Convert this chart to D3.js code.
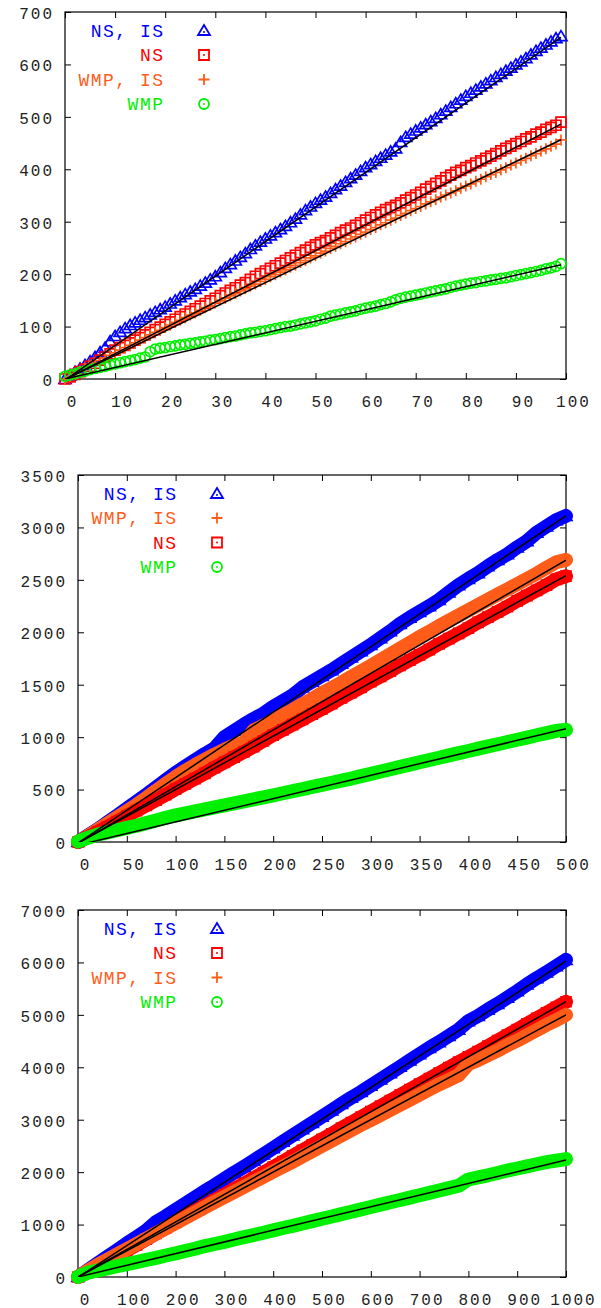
<!DOCTYPE html>
<html>
<head>
<meta charset="utf-8">
<script src="https://cdn.jsdelivr.net/npm/d3@7"></script>
<style>
  body { margin: 0; background: #fff; }
  .panel svg { display: block; overflow: visible; }
  .axis text { font: 16px "Liberation Mono", monospace; letter-spacing: 2px; fill: #222; }
  .legend text { font: 18px "Liberation Mono", monospace; letter-spacing: 1.5px; }
</style>
</head>
<body>
<div id="chart"></div>
<script>
// Series names and colours (legend text).
var names = ['NS, IS', 'NS', 'WMP, IS', 'WMP'];
var colors = {'NS, IS': '#0000ff', 'NS': '#ff0000', 'WMP, IS': '#ff5c1a', 'WMP': '#00f000'};
var shapesOf = {'NS, IS': 'triangle', 'NS': 'square', 'WMP, IS': 'plus', 'WMP': 'circle'};

// Panel 1: x = 0..99
var x1 = d3.range(0, 100);
var nsIs1 = [0,7,14,20,27,34,42,51,60,72, 82,90,97,103,108,113,118,123,128,133,
  138,144,150,156,162,167,172,178,184,190, 196,204,212,219,226,233,240,248,255,262,
  268,274,280,286,292,299,306,314,322,329, 336,342,348,355,362,369,376,383,390,397,
  404,410,416,422,428,434,440,452,462,468, 474,480,486,492,498,505,512,519,526,533,
  540,546,552,558,564,570,576,582,588,594, 600,606,612,619,626,632,638,644,650,654];
var ns1 = [0,4,9,14,19,24,30,36,42,48, 55,60,64,69,74,79,84,89,94,99,
  104,109,114,119,124,129,134,139,144,149, 154,159,164,169,174,179,184,190,196,201,
  206,211,216,221,226,231,236,241,246,251, 256,260,264,269,274,279,284,288,293,298,
  303,308,313,318,323,327,331,336,341,346, 351,356,362,367,373,378,384,389,394,398,
  403,407,412,416,421,425,430,435,440,444, 449,453,458,462,467,471,476,480,484,490];
var wmpIs1 = [0,5,10,15,20,25,30,35,40,45, 50,55,60,64,69,74,79,84,89,93,
  98,103,108,112,117,122,126,131,136,140, 145,150,154,159,163,168,172,177,181,186,
  190,195,199,204,208,213,217,222,226,231, 235,240,244,249,253,258,262,267,271,276,
  280,285,289,294,298,303,307,312,316,321, 325,329,334,338,342,347,351,355,359,364,
  368,372,377,381,386,390,394,399,403,408, 412,417,421,426,430,435,439,444,448,456];
var wmp1 = [5,8,10,13,15,18,20,22,24,27, 29,31,33,35,37,40,42,52,57,59,
  60,62,63,65,66,68,69,71,72,74, 75,77,79,81,82,84,86,88,89,91,
  92,94,96,98,100,101,103,105,107,109, 111,114,116,120,122,124,126,128,130,133,
  135,137,139,142,144,147,151,154,156,158, 160,162,164,166,168,170,172,175,177,179,
  181,183,184,186,187,189,190,192,193,195, 197,199,201,203,205,207,210,212,215,220];
// linear fits [slope, intercept]
var fits1 = {'NS, IS': [6.6, -2], 'NS': [4.92, -1], 'WMP, IS': [4.62, -1], 'WMP': [2.2, 0]};

// Panel 2: x = 0..500 step 10
var x2 = d3.range(0, 501, 10);
var nsIs2 = [0,60,120,185,250,318,385,452,520,590, 660,720,780,840,895,1000,1060,1120,1175,1225,
  1290,1345,1400,1475,1530,1585,1640,1700,1760,1820, 1880,1945,2010,2080,2140,2195,2250,2310,2380,2450,
  2510,2565,2630,2690,2745,2810,2870,2950,3010,3070, 3110];
var wmpIs2 = [0,55,115,175,235,295,355,420,490,555, 620,680,735,785,835,880,920,950,1065,1110,
  1160,1210,1260,1315,1365,1420,1470,1520,1575,1628, 1680,1735,1790,1845,1900,1955,2005,2060,2110,2160,
  2210,2260,2310,2360,2410,2460,2510,2560,2615,2668, 2690];
var ns2 = [0,45,95,145,195,248,300,350,400,452, 505,555,605,655,710,760,810,860,910,965,
  1020,1070,1120,1170,1220,1270,1320,1375,1425,1475, 1530,1580,1630,1685,1735,1785,1835,1890,1940,1990,
  2040,2095,2145,2195,2245,2300,2350,2400,2450,2505, 2535];
var wmp2 = [5,40,70,92,112,135,155,180,205,232, 255,273,292,310,330,350,368,388,407,426,
  445,465,485,505,525,545,565,585,605,628, 650,672,694,716,738,760,782,804,826,848,
  868,890,912,932,954,975,996,1018,1038,1060, 1070];
var fits2 = {'NS, IS': [6.24, -10], 'NS': [5.1, -10], 'WMP, IS': [5.4, -12], 'WMP': [2.22, -30]};

// Panel 3: x = 0..1000 step 20
var x3 = d3.range(0, 1001, 20);
var nsIs3 = [0,130,260,385,510,640,760,885,1050,1160, 1280,1400,1520,1640,1750,1870,1990,2100,2220,2340,
  2460,2580,2700,2820,2940,3060,3180,3300,3420,3530, 3650,3770,3890,4010,4130,4250,4370,4480,4600,4720,
  4880,4980,5100,5210,5330,5450,5580,5700,5810,5930, 6050];
var ns3 = [0,90,190,295,400,505,610,720,830,935, 1040,1150,1255,1360,1465,1570,1675,1780,1885,1990,
  2095,2200,2310,2415,2520,2625,2730,2840,2945,3050, 3155,3260,3365,3470,3575,3680,3785,3890,3995,4100,
  4200,4300,4405,4510,4615,4720,4830,4935,5040,5145, 5250];
var wmpIs3 = [0,120,230,330,430,530,630,730,830,930, 1030,1130,1230,1330,1430,1525,1620,1720,1815,1910,
  2010,2105,2200,2300,2400,2500,2600,2700,2800,2900, 2995,3090,3190,3285,3380,3480,3580,3675,3760,3850,
  4060,4140,4230,4320,4420,4510,4610,4710,4810,4900, 5000];
var wmp3 = [5,80,125,165,205,245,285,325,365,410, 450,495,540,590,630,670,715,760,800,845,
  890,935,975,1020,1065,1110,1155,1200,1245,1290, 1335,1380,1425,1470,1515,1560,1605,1650,1695,1740,
  1860,1900,1940,1985,2030,2070,2110,2150,2190,2220, 2250];
var fits3 = {'NS, IS': [6.03, -5], 'NS': [5.25, 0], 'WMP, IS': [5.0, 0], 'WMP': [2.23, 0]};

// Tick values
var xTicks1 = d3.range(0, 101, 10), yTicks1 = d3.range(0, 701, 100);
var xTicks2 = d3.range(0, 501, 50), yTicks2 = d3.range(0, 3501, 500);
var xTicks3 = d3.range(0, 1001, 100), yTicks3 = d3.range(0, 7001, 1000);

// Marker outlines, centred on the point.
var markerPath = {
  triangle: 'M0,-5.5L6,4.5L-6,4.5Z',
  square: 'M-5,-5H5V5H-5Z',
  plus: 'M-5.5,0H5.5M0,-5.5V5.5',
  circle: 'M5,0A5,5 0 1,1 -5,0A5,5 0 1,1 5,0Z'
};

// Closure for one panel of the chart.
var seriesChart = function() {

  var width = 601,
    height = 436,
    margin = {top: 12, right: 35, bottom: 57, left: 65},
    xTicks = [], yTicks = [],
    band = 0;

  function chart(selection) {
    selection.each(function(panel) {
      var w = width - margin.left - margin.right,
        h = height - margin.top - margin.bottom;

      var x = d3.scaleLinear().domain(d3.extent(xTicks)).range([0, w]);
      var y = d3.scaleLinear().domain(d3.extent(yTicks)).range([h, 0]);
      var fmt = d3.format('d');

      var svg = d3.select(this).append('svg')
        .attr('width', width)
        .attr('height', height);

      svg.append('defs').append('clipPath')
        .attr('id', 'clip-' + panel.id)
        .append('rect').attr('width', w).attr('height', h);

      var g = svg.append('g')
        .attr('transform', 'translate(' + margin.left + ',' + margin.top + ')');

      // Axes, ticks pointing inwards on all four sides.
      function tidy(a) { a.select('.domain').remove(); a.attr('color', '#000'); }
      g.append('g').attr('class', 'axis')
        .attr('transform', 'translate(0,' + h + ')')
        .call(d3.axisBottom(x).tickValues(xTicks).tickFormat(fmt).tickSize(-6).tickPadding(17))
        .call(tidy)
        .selectAll('text').attr('dx', 7);
      g.append('g').attr('class', 'axis')
        .call(d3.axisLeft(y).tickValues(yTicks).tickFormat(fmt).tickSize(-6).tickPadding(11))
        .call(tidy)
        .selectAll('text').attr('dy', '0.4em');
      g.append('g').attr('class', 'axis')
        .call(d3.axisTop(x).tickValues(xTicks).tickSize(-6).tickFormat(''))
        .call(tidy);
      g.append('g').attr('class', 'axis')
        .attr('transform', 'translate(' + w + ',0)')
        .call(d3.axisRight(y).tickValues(yTicks).tickSize(-6).tickFormat(''))
        .call(tidy);

      g.append('rect')
        .attr('width', w).attr('height', h)
        .attr('fill', 'none').attr('stroke', '#000').attr('stroke-width', 1.2);

      var line = d3.line()
        .x(function(d) { return x(d[0]); })
        .y(function(d) { return y(d[1]); });

      // Data series, in legend order.
      panel.series.forEach(function(s) {
        var pts = panel.xs.map(function(v, i) { return [v, s.values[i]]; });
        var col = colors[s.name];
        if (band > 0) {
          g.append('path')
            .datum(pts)
            .attr('d', line)
            .attr('fill', 'none')
            .attr('stroke', col)
            .attr('stroke-width', band)
            .attr('stroke-linejoin', 'round')
            .attr('stroke-linecap', 'round');
        }
        g.append('g').selectAll('path')
          .data(pts)
          .enter()
          .append('path')
          .attr('transform', function(d) { return 'translate(' + x(d[0]) + ',' + y(d[1]) + ')'; })
          .attr('d', markerPath[shapesOf[s.name]])
          .attr('fill', 'none')
          .attr('stroke', col)
          .attr('stroke-width', 1.7);
      });

      // Fitted lines.
      var x0 = panel.xs[0], x1 = panel.xs[panel.xs.length - 1];
      g.append('g').attr('clip-path', 'url(#clip-' + panel.id + ')')
        .selectAll('path')
        .data(panel.series)
        .enter()
        .append('path')
        .attr('d', function(s) {
          var f = panel.fits[s.name];
          return line([[x0, f[0] * x0 + f[1]], [x1, f[0] * x1 + f[1]]]);
        })
        .attr('fill', 'none')
        .attr('stroke', '#000')
        .attr('stroke-width', 1.5);

      // Legend, top left inside the frame.
      var legend = g.append('g').attr('class', 'legend');
      var rows = legend.selectAll('g')
        .data(panel.series)
        .enter()
        .append('g')
        .attr('transform', function(s, i) { return 'translate(0,' + (18.5 + i * 24.5) + ')'; });
      rows.append('text')
        .attr('x', 99.5)
        .attr('y', 6)
        .attr('text-anchor', 'end')
        .attr('fill', function(s) { return colors[s.name]; })
        .text(function(s) { return s.name; });
      rows.append('path')
        .attr('transform', 'translate(139,0)')
        .attr('d', function(s) { return markerPath[shapesOf[s.name]]; })
        .attr('fill', 'none')
        .attr('stroke', function(s) { return colors[s.name]; })
        .attr('stroke-width', 1.8);
      rows.filter(function(s) { return shapesOf[s.name] !== 'plus'; })
        .append('circle')
        .attr('cx', 139).attr('cy', function(s) { return shapesOf[s.name] === 'triangle' ? 1.5 : 0; })
        .attr('r', 1)
        .attr('fill', function(s) { return colors[s.name]; });
    });
  }

  // Accessor Methods
  chart.width = function(value) {
    if (!arguments.length) { return width; }
    width = value;
    return chart;
  };
  chart.height = function(value) {
    if (!arguments.length) { return height; }
    height = value;
    return chart;
  };
  chart.margin = function(value) {
    if (!arguments.length) { return margin; }
    margin = value;
    return chart;
  };
  chart.xTicks = function(value) {
    if (!arguments.length) { return xTicks; }
    xTicks = value;
    return chart;
  };
  chart.yTicks = function(value) {
    if (!arguments.length) { return yTicks; }
    yTicks = value;
    return chart;
  };
  chart.band = function(value) {
    if (!arguments.length) { return band; }
    band = value;
    return chart;
  };

  return chart;
};

// The panels, built from the arrays above.
var panels = [
  {id: 'p1', xs: x1, fits: fits1, series: [
    {name: 'NS, IS', values: nsIs1}, {name: 'NS', values: ns1},
    {name: 'WMP, IS', values: wmpIs1}, {name: 'WMP', values: wmp1}]},
  {id: 'p2', xs: x2, fits: fits2, series: [
    {name: 'NS, IS', values: nsIs2}, {name: 'WMP, IS', values: wmpIs2},
    {name: 'NS', values: ns2}, {name: 'WMP', values: wmp2}]},
  {id: 'p3', xs: x3, fits: fits3, series: [
    {name: 'NS, IS', values: nsIs3}, {name: 'NS', values: ns3},
    {name: 'WMP, IS', values: wmpIs3}, {name: 'WMP', values: wmp3}]}
];

var charts = [
  seriesChart().height(440).margin({top: 12, right: 35, bottom: 61, left: 65})
    .xTicks(xTicks1).yTicks(yTicks1),
  seriesChart().height(450).margin({top: 35, right: 35, bottom: 48, left: 78})
    .xTicks(xTicks2).yTicks(yTicks2).band(14),
  seriesChart().height(418).margin({top: 20, right: 35, bottom: 31, left: 78})
    .xTicks(xTicks3).yTicks(yTicks3).band(14)
];

d3.select('#chart').selectAll('div.panel')
  .data(panels)
  .enter()
  .append('div')
  .attr('class', 'panel')
  .each(function(p, i) { d3.select(this).call(charts[i]); });
</script>
</body>
</html>
